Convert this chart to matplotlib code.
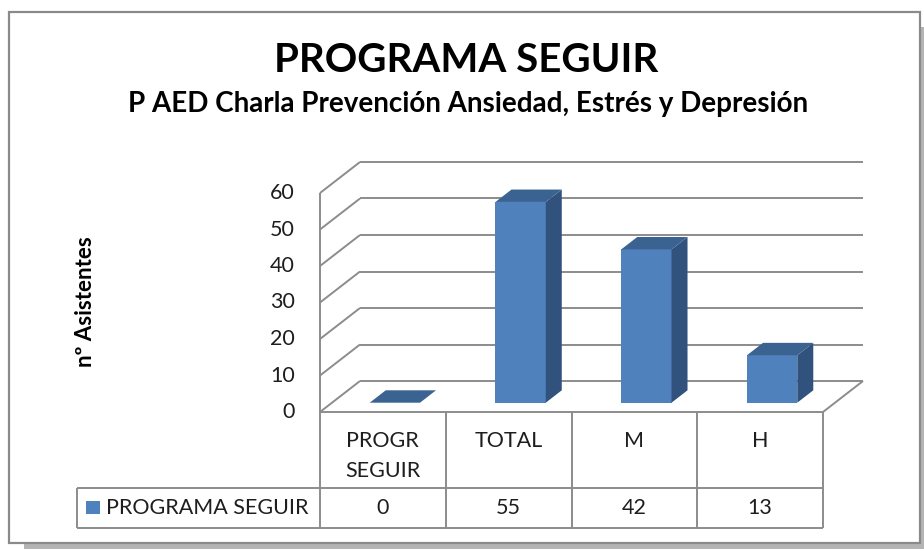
import matplotlib
matplotlib.use("Agg")
import matplotlib.pyplot as plt
from matplotlib.patches import Polygon, Rectangle

plt.rcParams['font.family'] = ['Lato', 'DejaVu Sans']

# Data
categories = ["PROGR\nSEGUIR", "TOTAL", "M", "H"]
values = [0, 55, 42, 13]
series_name = "PROGRAMA SEGUIR"
title = "PROGRAMA SEGUIR"
subtitle = "P AED Charla Prevención Ansiedad, Estrés y Depresión"
ylabel = "nº Asistentes"
yticks = [0, 10, 20, 30, 40, 50, 60]

# Geometry (pixels of the 924x551 canvas)
W, H = 924, 551
PX_CAT = 125.75      # px per category
PX_VAL = 3.65        # px per value unit
X0, Y0 = 320, 412    # front-left floor corner
DX = 40 / PX_CAT     # depth offset in category units
DY = 31 / PX_VAL     # depth offset in value units
GRID = '#8c8c8c'
FRONT, SIDE, TOP = '#4f81bd', '#30527c', '#3b6391'
TXT = '#1e1e1e'
FS = 15.5

fig = plt.figure(figsize=(W / 100, H / 100), dpi=100)

# frame with shadow
fig.patches.append(Rectangle((24 / W, 1 - 549 / H), 901 / W, 522 / H,
                             transform=fig.transFigure, facecolor='#b4b4b4',
                             edgecolor='none', zorder=0))
fig.patches.append(Rectangle((9 / W, 1 - 543 / H), 911 / W, 531 / H,
                             transform=fig.transFigure, facecolor='white',
                             edgecolor='#8a8a8a', linewidth=1.6, zorder=1))

ax_w, ax_h = 560, 265
ax = fig.add_axes([X0 / W, 1 - Y0 / H, ax_w / W, ax_h / H])
ax.set_zorder(5)
ax.set_xlim(0, ax_w / PX_CAT)
ax.set_ylim(0, ax_h / PX_VAL)
ax.axis('off')
ax.patch.set_alpha(0)

n = len(categories)
ymax = yticks[-1]
kw = dict(color=GRID, lw=1.4, clip_on=False, solid_capstyle='butt')

# walls and grid
for v in yticks:
    ax.plot([0, DX], [v, v + DY], **kw)
    ax.plot([DX, n + DX], [v + DY, v + DY], **kw)
    ax.text(-0.2, v, str(v), ha='right', va='center', fontsize=FS, color=TXT)
ax.plot([0, 0], [0, ymax], **kw)
ax.plot([0, n], [0, 0], **kw)
ax.plot([n, n + DX], [0, DY], **kw)

# bars
f1, f2, bw = 0.3, 0.7, 0.4
for i, v in enumerate(values):
    xl = i + 0.5 - bw / 2
    xr = i + 0.5 + bw / 2
    a = (f1 * DX, f1 * DY)
    b = (f2 * DX, f2 * DY)
    top = [(xl + a[0], a[1] + v), (xr + a[0], a[1] + v),
           (xr + b[0], b[1] + v), (xl + b[0], b[1] + v)]
    if v > 0:
        front = [(xl + a[0], a[1]), (xr + a[0], a[1]),
                 (xr + a[0], a[1] + v), (xl + a[0], a[1] + v)]
        side = [(xr + a[0], a[1]), (xr + b[0], b[1]),
                (xr + b[0], b[1] + v), (xr + a[0], a[1] + v)]
        ax.add_patch(Polygon(front, closed=True, facecolor=FRONT, edgecolor='none', zorder=3))
        ax.add_patch(Polygon(side, closed=True, facecolor=SIDE, edgecolor='none', zorder=3))
    ax.add_patch(Polygon(top, closed=True, facecolor=TOP, edgecolor='none', zorder=3))

# data table
r1 = -(488 - Y0) / PX_VAL
r2 = -(528 - Y0) / PX_VAL
xleg = (77 - X0) / PX_CAT
for i in range(n + 1):
    ax.plot([i, i], [0, r2], **kw)
ax.plot([xleg, xleg], [r1, r2], **kw)
ax.plot([xleg, n], [r1, r1], **kw)
ax.plot([xleg, n], [r2, r2], **kw)
for i, (c, v) in enumerate(zip(categories, values)):
    ax.text(i + 0.5, -(431 - Y0) / PX_VAL, c, ha='center', va='top', fontsize=FS,
            color=TXT, linespacing=1.6)
    ax.text(i + 0.5, (r1 + r2) / 2, str(v), ha='center', va='center',
            fontsize=FS, color=TXT)
ax.add_patch(Rectangle(((86 - X0) / PX_CAT, -(514 - Y0) / PX_VAL),
                       14 / PX_CAT, 13 / PX_VAL, facecolor=FRONT,
                       edgecolor='none', clip_on=False))
ax.text((106 - X0) / PX_CAT, (r1 + r2) / 2, series_name, ha='left', va='center',
        fontsize=FS, color=TXT)

# titles
fig.text(466 / W, 1 - 60 / H, title, ha='center', va='center',
         fontsize=29, fontweight='bold', color='black')
fig.text(468 / W, 1 - 104 / H, subtitle, ha='center', va='center',
         fontsize=20, fontweight='bold', color='black')
fig.text(85 / W, 1 - 302 / H, ylabel, ha='center', va='center', rotation=90,
         fontsize=16, fontweight='bold', color='black')

fig.savefig("out.png", dpi=100)
